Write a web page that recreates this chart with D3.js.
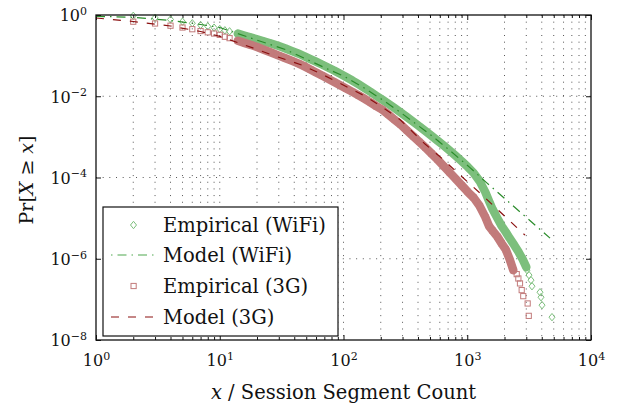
<!DOCTYPE html>
<html>
<head>
<meta charset="utf-8">
<script src="https://cdn.jsdelivr.net/npm/d3@7/dist/d3.min.js"></script>
<style>
  html, body { margin: 0; padding: 0; background: #fff; }
  svg { display: block; }
  svg text { font-family: "DejaVu Serif", serif; }
</style>
</head>
<body>
<div id="chart"></div>
<script>
// values (CCDF of session segment counts)
const wifiEmpX = [2, 3, 4, 5, 6, 7, 8, 9, 10, 11, 12, 14, 16, 18, 20, 23, 26, 30, 34, 38, 43, 48, 54, 60, 67,
  75, 84, 94, 105, 118, 132, 148, 165, 185, 207, 232, 260, 290, 325, 365, 410, 460, 515, 575, 645,
  720, 810, 905, 1010, 1130, 1260, 1400, 1500, 1600, 1750, 1900, 2050, 2200, 2400, 2600, 2800, 3000,
  3040, 3155, 3275, 3335, 3870, 3945, 4020, 4840];
const wifiEmpY = [0.955, 0.853, 0.775, 0.687, 0.625, 0.567, 0.527, 0.487, 0.452, 0.420, 0.396, 0.348, 0.309, 0.279, 0.252,
  0.222, 0.199, 0.172, 0.150, 0.131, 0.113, 0.0977, 0.0824, 0.0708, 0.0604,
  0.0509, 0.0430, 0.0358, 0.0297, 0.0244, 0.0198, 0.0159, 0.0129, 0.0102, 0.00815,
  0.00643, 0.00504, 0.00397, 0.00308, 0.00236, 0.00182, 0.00139, 0.00106, 8.11e-4, 6.11e-4,
  4.60e-4, 3.37e-4, 2.49e-4, 1.82e-4, 1.28e-4, 8.15e-5, 4.37e-5, 2.62e-5, 1.67e-5, 1.0e-5,
  6.35e-6, 4.52e-6, 3.21e-6, 2.16e-6, 1.46e-6, 9.77e-7, 6.21e-7,
  5.24e-7, 3.95e-7, 2.97e-7, 2.11e-7, 1.50e-7, 1.13e-7, 7.2e-8, 3.65e-8];

const g3EmpX = [2, 3, 4, 5, 6, 7, 8, 9, 10, 11, 12, 14, 16, 18, 20, 23, 26, 30, 34, 38, 43, 48, 54, 60, 67,
  75, 84, 94, 105, 118, 132, 148, 165, 185, 207, 232, 260, 290, 325, 365, 410, 460, 515, 575, 645,
  720, 810, 905, 1010, 1130, 1260, 1400, 1500, 1600, 1750, 1900, 2050, 2200,
  2355, 2510, 2588, 2668, 2754, 2836, 3077, 3140];
const g3EmpY = [0.684, 0.618, 0.545, 0.492, 0.447, 0.403, 0.375, 0.350, 0.325, 0.292, 0.269, 0.232, 0.203, 0.182, 0.163,
  0.138, 0.119, 0.100, 0.0863, 0.0753, 0.0646, 0.0551, 0.0457, 0.0385, 0.0324,
  0.0270, 0.0225, 0.0187, 0.0156, 0.0128, 0.0106, 0.00867, 0.00708, 0.00562, 0.00460,
  0.00348, 0.00261, 0.00200, 0.00145, 0.00104, 7.53e-4, 5.42e-4, 3.88e-4, 2.77e-4, 1.91e-4,
  1.34e-4, 9.14e-5, 6.35e-5, 4.42e-5, 3.15e-5, 1.98e-5, 1.06e-5, 6.35e-6, 4.92e-6, 3.50e-6,
  2.36e-6, 1.67e-6, 9.77e-7,
  5.24e-7, 4.18e-7, 3.27e-7, 2.47e-7, 1.69e-7, 1.20e-7, 7.93e-8, 3.93e-8];

const wifiModelX = [1, 2, 4, 7, 10, 21, 34, 73, 102, 149, 208, 286, 514, 726, 1052, 1431, 4667];
const wifiModelY = [0.929, 0.877, 0.733, 0.583, 0.492, 0.229, 0.141, 0.0481, 0.0306, 0.0155, 0.00806, 0.00408,
  0.00108, 4.60e-4, 1.75e-4, 7.48e-5, 3.21e-6];

const g3ModelX = [1, 2, 4, 7, 10, 19, 28, 46, 69, 94, 152, 208, 286, 456, 614, 874, 1268, 2930];
const g3ModelY = [0.843, 0.692, 0.536, 0.392, 0.299, 0.150, 0.0977, 0.0587, 0.0333, 0.0206, 0.00984, 0.00527,
  0.00267, 6.65e-4, 3.09e-4, 1.15e-4, 4.13e-5, 3.81e-6];

// where the markers pile up into a solid band
const wifiDense = [14, 3000];
const g3Dense = [14, 2400];

const xTicks = [1, 10, 100, 1000, 10000];
const xTickExp = ['0', '1', '2', '3', '4'];
const yTicks = [1, 1e-2, 1e-4, 1e-6, 1e-8];
const yTickExp = ['0', '\u22122', '\u22124', '\u22126', '\u22128'];

const legendLabels = ['Empirical (WiFi)', 'Model (WiFi)', 'Empirical (3G)', 'Model (3G)'];

const w = 617, h = 406;
const padL = 96, padR = 591, padT = 15, padB = 340;
const font = '"DejaVu Serif", serif';
const ink = '#111';
const green = '#7cbf7c', red = '#c27b7b';
const greenLine = '#2a8c2a', redLine = '#8b1010';

const x = d3.scaleLog().domain([1, 1e4]).range([padL, padR]);
const y = d3.scaleLog().domain([1e-8, 1]).range([padB, padT]);

const svg = d3.select('#chart').append('svg')
  .attr('width', w).attr('height', h)
  .attr('font-family', font);

// grid
const minorX = x.ticks().filter(t => t > 1 && t < 1e4);
svg.append('g').selectAll('line').data(minorX).enter().append('line')
  .attr('x1', d => x(d)).attr('x2', d => x(d))
  .attr('y1', padT).attr('y2', padB)
  .attr('stroke', '#555').attr('stroke-width', 1)
  .attr('stroke-dasharray', '1,5.67');
svg.append('g').selectAll('line').data(yTicks.slice(1, -1)).enter().append('line')
  .attr('x1', padL).attr('x2', padR)
  .attr('y1', d => y(d)).attr('y2', d => y(d))
  .attr('stroke', '#555').attr('stroke-width', 1)
  .attr('stroke-dasharray', '1,5.67');

// axes
const supLabel = (sel, exps, vals) => {
  sel.selectAll('.tick text').each(function (d) {
    const t = d3.select(this);
    const i = vals.indexOf(d);
    t.append('tspan').text('10');
    t.append('tspan').attr('dy', -6.5).attr('font-size', 11).text(exps[i]);
  });
};

const onlyMinor = minorX.filter(t => !xTicks.includes(t));

const gx = svg.append('g').attr('transform', 'translate(0,' + padB + ')')
  .call(d3.axisBottom(x).tickValues(xTicks).tickSizeInner(-5).tickSizeOuter(0).tickPadding(15).tickFormat(() => ''));
gx.attr('font-family', font).attr('font-size', 16);
supLabel(gx, xTickExp, xTicks);

svg.append('g').attr('transform', 'translate(0,' + padB + ')')
  .call(d3.axisBottom(x).tickValues(onlyMinor).tickSizeInner(-3).tickSizeOuter(0).tickFormat(() => ''));
svg.append('g').attr('transform', 'translate(0,' + padT + ')')
  .call(d3.axisTop(x).tickValues(onlyMinor).tickSizeInner(-3).tickSizeOuter(0).tickFormat(() => ''));
svg.append('g').attr('transform', 'translate(0,' + padT + ')')
  .call(d3.axisTop(x).tickValues(xTicks).tickSizeInner(-5).tickSizeOuter(0).tickFormat(() => ''));

const gy = svg.append('g').attr('transform', 'translate(' + padL + ',0)')
  .call(d3.axisLeft(y).tickValues(yTicks).tickSizeInner(-5).tickSizeOuter(0).tickPadding(9).tickFormat(() => ''));
gy.attr('font-family', font).attr('font-size', 16);
gy.selectAll('.tick text').attr('dy', '0.36em');
supLabel(gy, yTickExp, yTicks);

svg.append('g').attr('transform', 'translate(' + padR + ',0)')
  .call(d3.axisRight(y).tickValues(yTicks).tickSizeInner(-5).tickSizeOuter(0).tickFormat(() => ''));

svg.selectAll('.domain').remove();
svg.selectAll('.tick line').attr('stroke', ink).attr('stroke-width', 1);
svg.selectAll('.tick text').attr('fill', ink);

// data
const line = d3.line().x(d => x(d[0])).y(d => y(d[1]));
const diamond = 'M0,-3.7L3,0L0,3.7L-3,0Z';

const drawEmp = (xs, ys, dense, color, shape) => {
  const pts = d3.zip(xs, ys);
  svg.append('path')
    .datum(pts.filter(d => d[0] >= dense[0] && d[0] <= dense[1]))
    .attr('d', line)
    .attr('fill', 'none').attr('stroke', color)
    .attr('stroke-width', 8.5).attr('stroke-linejoin', 'round').attr('stroke-linecap', 'round');
  const g = svg.append('g');
  if (shape === 'diamond') {
    g.selectAll('path').data(pts).enter().append('path')
      .attr('d', diamond)
      .attr('transform', d => 'translate(' + x(d[0]) + ',' + y(d[1]) + ')')
      .attr('fill', 'none').attr('stroke', color).attr('stroke-width', 1);
  } else {
    g.selectAll('rect').data(pts).enter().append('rect')
      .attr('x', d => x(d[0]) - 2.6).attr('y', d => y(d[1]) - 2.6)
      .attr('width', 5.2).attr('height', 5.2)
      .attr('fill', 'none').attr('stroke', color).attr('stroke-width', 1);
  }
};

const drawModel = (xs, ys, color, dash) => {
  svg.append('path').datum(d3.zip(xs, ys))
    .attr('d', line)
    .attr('fill', 'none').attr('stroke', color)
    .attr('stroke-width', 1.2).attr('stroke-dasharray', dash);
};

drawEmp(wifiEmpX, wifiEmpY, wifiDense, green, 'diamond');
drawModel(wifiModelX, wifiModelY, greenLine, '9,5,1.5,5');
drawEmp(g3EmpX, g3EmpY, g3Dense, red, 'square');
drawModel(g3ModelX, g3ModelY, redLine, '8,9');

// frame
svg.append('rect')
  .attr('x', padL).attr('y', padT)
  .attr('width', padR - padL).attr('height', padB - padT)
  .attr('fill', 'none').attr('stroke', ink).attr('stroke-width', 1.3);

// legend
const lg = svg.append('g');
lg.append('rect')
  .attr('x', 103).attr('y', 207).attr('width', 235).attr('height', 129)
  .attr('fill', '#fff').attr('stroke', ink).attr('stroke-width', 1.2);
const rowY = [225, 255, 286, 317];
lg.append('path').attr('d', diamond)
  .attr('transform', 'translate(133.5,' + rowY[0] + ')')
  .attr('fill', 'none').attr('stroke', green).attr('stroke-width', 1);
lg.append('line').attr('x1', 111).attr('x2', 157).attr('y1', rowY[1]).attr('y2', rowY[1])
  .attr('stroke', '#4fa84f').attr('stroke-width', 1.2).attr('stroke-dasharray', '1.5,5,9,5');
lg.append('rect').attr('x', 131).attr('y', rowY[2] - 2.6).attr('width', 5.2).attr('height', 5.2)
  .attr('fill', 'none').attr('stroke', red).attr('stroke-width', 1);
lg.append('line').attr('x1', 111).attr('x2', 157).attr('y1', rowY[3]).attr('y2', rowY[3])
  .attr('stroke', redLine).attr('stroke-width', 1.2).attr('stroke-dasharray', '8,9');
lg.selectAll('text').data(legendLabels).enter().append('text')
  .attr('x', 163).attr('y', (d, i) => rowY[i] + 6.5)
  .attr('font-size', 19.5).attr('fill', ink)
  .text(d => d);

// axis titles
const xl = svg.append('text')
  .attr('x', (padL + padR) / 2).attr('y', 399)
  .attr('text-anchor', 'middle').attr('font-size', 19.5).attr('fill', ink);
xl.append('tspan').attr('font-style', 'italic').text('x');
xl.append('tspan').text(' / Session Segment Count');

const yl = svg.append('text')
  .attr('transform', 'translate(33,180) rotate(-90)')
  .attr('text-anchor', 'middle').attr('font-size', 19).attr('fill', ink);
yl.append('tspan').text('Pr[');
yl.append('tspan').attr('font-style', 'italic').text('X');
yl.append('tspan').text(' \u2265 ');
yl.append('tspan').attr('font-style', 'italic').text('x');
yl.append('tspan').text(']');
</script>
</body>
</html>
